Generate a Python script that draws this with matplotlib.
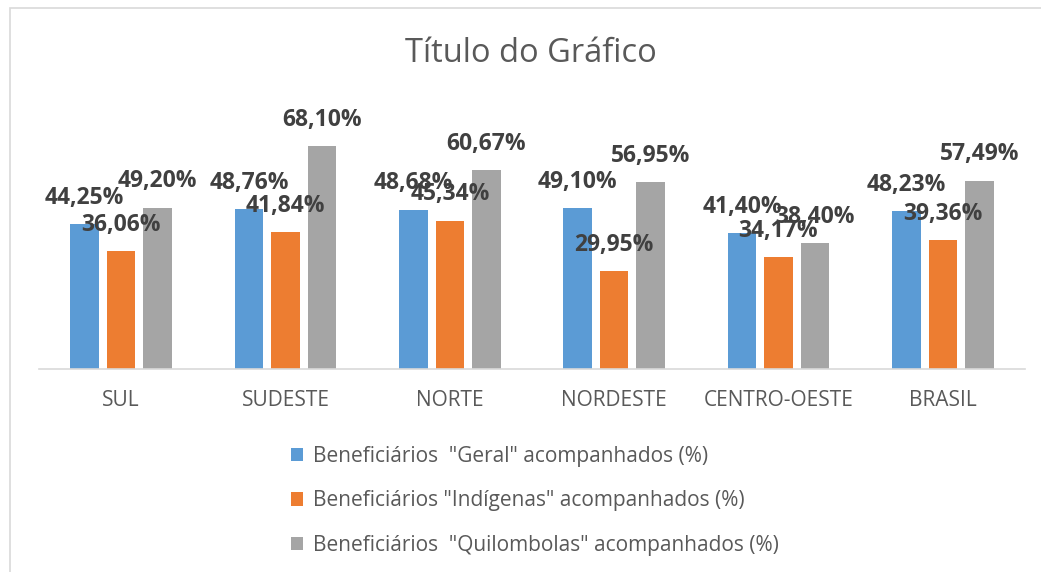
import matplotlib.pyplot as plt
import numpy as np
from matplotlib.patches import Rectangle

regions = ['SUL', 'SUDESTE', 'NORTE', 'NORDESTE', 'CENTRO-OESTE', 'BRASIL']
geral = [44.25, 48.76, 48.68, 49.10, 41.40, 48.23]
indigenas = [36.06, 41.84, 45.34, 29.95, 34.17, 39.36]
quilombolas = [49.20, 68.10, 60.67, 56.95, 38.40, 57.49]
series_names = ['Beneficiários  "Geral" acompanhados (%)',
                'Beneficiários "Indígenas" acompanhados (%)',
                'Beneficiários  "Quilombolas" acompanhados (%)']
colors = ['#5B9BD5', '#ED7D31', '#A5A5A5']

W, H = 1041, 572
plt.rcParams['font.family'] = ['Open Sans', 'DejaVu Sans']
fig = plt.figure(figsize=(W / 100, H / 100), dpi=100)

# light chart-area border (top/left visible, rest runs off the picture)
fig.patches.append(Rectangle((10 / W, -0.1), 1.2, (H - 8) / H + 0.1,
                             transform=fig.transFigure, fill=False,
                             edgecolor='#D9D9D9', lw=1.2))

ax = fig.add_axes([39 / W, (H - 369) / H, 986 / W, 262 / H])
x = np.arange(len(regions))
width = 0.173
step = 0.222
for i, (vals, name, c) in enumerate(zip([geral, indigenas, quilombolas], series_names, colors)):
    pos = x + (i - 1) * step
    ax.bar(pos, vals, width, color=c, label=name, zorder=2)
    for px, v in zip(pos, vals):
        ax.annotate(f'{v:.2f}%'.replace('.', ','), (px, v), xytext=(0, 19),
                    textcoords='offset points', ha='center', va='center',
                    fontsize=16.5, fontweight='bold', color='#404040', zorder=5)

ax.set_xlim(-0.5, len(regions) - 0.5)
ax.set_ylim(0, 80)
ax.set_yticks([])
ax.set_xticks(x)
ax.set_xticklabels(regions, fontsize=15, color='#595959')
ax.tick_params(axis='x', length=0, pad=15)
for s in ['top', 'right', 'left']:
    ax.spines[s].set_visible(False)
ax.spines['bottom'].set_color('#D9D9D9')
ax.spines['bottom'].set_linewidth(1.2)

fig.text(531 / W, 1 - 53 / H, 'Título do Gráfico', ha='center', va='center',
         fontsize=23.5, color='#595959')

fig.legend(loc='upper left', bbox_to_anchor=(272 / W, 1 - 427 / H), frameon=False,
           fontsize=15, labelcolor='#595959', handlelength=0.6, handleheight=0.6,
           handletextpad=0.45, labelspacing=1.13)

fig.savefig('out.png', dpi=100)
